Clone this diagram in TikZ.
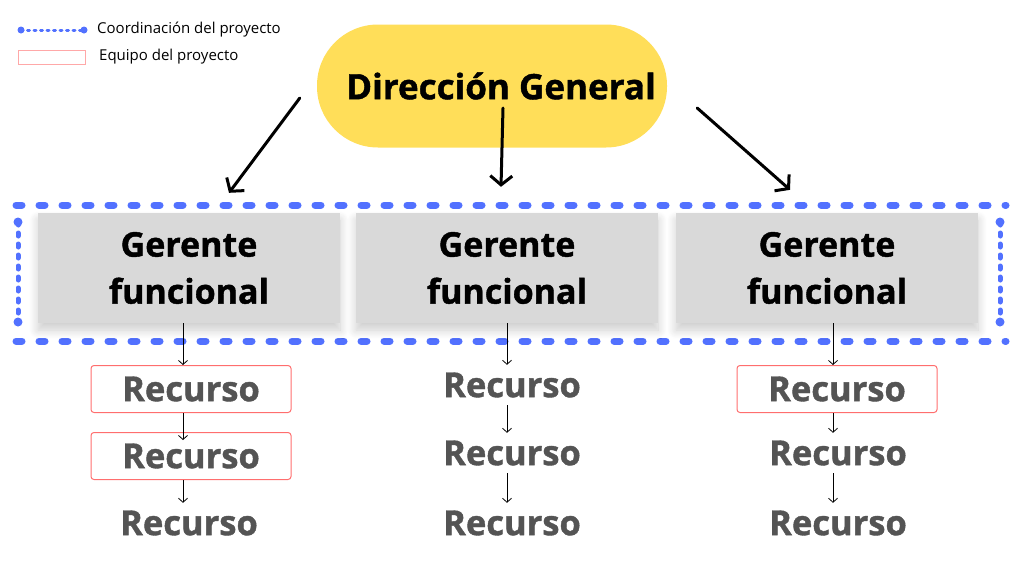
\documentclass[tikz,border=0pt]{standalone}
\usepackage{fontspec}
\setmainfont{Open Sans}
\newfontfamily\boldsans{Open Sans}[UprightFont=* Bold, FakeBold=1.2]
\usetikzlibrary{arrows.meta,shadows.blur}
\definecolor{myyellow}{RGB}{255,222,89}
\definecolor{mygray}{RGB}{217,217,217}
\definecolor{myblue}{RGB}{82,113,255}
\definecolor{myred}{RGB}{255,110,110}
\definecolor{mytext}{RGB}{84,84,84}

\begin{document}
\begin{tikzpicture}[x=1pt,y=-1pt,
    director/.style={fill=myyellow, rounded corners=61pt, minimum width=350pt, minimum height=123pt,
        font=\boldsans\fontsize{35}{40}\selectfont},
    manager/.style={fill=mygray, minimum width=302pt, minimum height=110pt, align=center,
        font=\boldsans\fontsize{34}{47}\selectfont,
        blur shadow={shadow xshift=0pt, shadow yshift=-7pt, shadow blur radius=9pt,
            shadow blur steps=10, shadow opacity=20}},
    resource/.style={text=mytext, minimum width=200pt, minimum height=40pt, inner sep=0pt,
        font=\boldsans\fontsize{34.5}{40}\selectfont},
    team/.style={resource, draw=myred, line width=1pt, rounded corners=3pt, minimum height=47pt},
    bigarrow/.style={-{Straight Barb[length=9pt,width=22pt,line width=3pt]}, line width=3pt, line cap=round},
    smallarrow/.style={-{Straight Barb[length=4pt,width=9pt]}, line width=0.8pt},
    coord/.style={myblue, line width=7pt, line cap=round, dash pattern=on 6pt off 17pt},
    coordside/.style={myblue, line width=5pt, line cap=round, dash pattern=on 3pt off 8pt}]
\useasboundingbox (0,0) rectangle (1024,576);

% leyenda
\draw[myblue, line width=3pt, line cap=round, dash pattern=on 2pt off 4.5pt] (21,30) -- (84,30);
\fill[myblue] (21,30) circle (3.5pt) (84,30) circle (3.5pt);
\node[anchor=west, font=\fontsize{15}{17}\selectfont, inner sep=0pt] (leg1) at (97,30) {Coordinación del proyecto};
\draw[myred!60, line width=0.6pt] (18,50) rectangle (85,64);
\node[anchor=west, font=\fontsize{15}{17}\selectfont, inner sep=0pt] (leg2) at (99,57) {Equipo del proyecto};

% marco de coordinacion
\draw[coord] (16,205) -- (1006,205);
\draw[coord] (16,341) -- (1006,341);
\draw[coordside] (18,222) -- (18,322);
\draw[coordside] (1000,222) -- (1000,322);
\fill[myblue] (18,222) circle (4.5pt) (18,322) circle (4.5pt) (1000,222) circle (4.5pt) (1000,322) circle (4.5pt);

\node[director] (dir) at (492,86) {\hspace*{18pt}Dirección General};

\node[manager] (g1) at (189,268) {Gerente\\funcional};
\node[manager] (g2) at (507,268) {Gerente\\funcional};
\node[manager] (g3) at (827,268) {Gerente\\funcional};

\node[team] (r11) at (191,389) {Recurso};
\node[team] (r12) at (191,456) {Recurso};
\node[resource] (r13) at (189,523) {Recurso};
\node[resource] (r21) at (512,385) {Recurso};
\node[resource] (r22) at (512,453) {Recurso};
\node[resource] (r23) at (512,523) {Recurso};
\node[team] (r31) at (837,389) {Recurso};
\node[resource] (r32) at (838,453) {Recurso};
\node[resource] (r33) at (838,523) {Recurso};

\draw[bigarrow] ([shift={(-17,12)}]dir.west) -- ([shift={(40,-20)}]g1.north);
\draw[bigarrow] ([shift={(11,22)}]dir.center) -- ([shift={(-6,-26)}]g2.north);
\draw[bigarrow] ([shift={(30,22)}]dir.east) -- ([shift={(-37,-23)}]g3.north);

\draw[smallarrow] ([xshift=-6pt]g1.south) -- ([xshift=-8pt]r11.north);
\draw[smallarrow] ([xshift=-8pt]r11.south) -- ([shift={(-8,8)}]r12.north);
\draw[smallarrow] ([xshift=-8pt]r12.south) -- ([xshift=-6pt]r13.north);
\draw[smallarrow] ([xshift=0pt]g2.south) -- ([xshift=-5pt]r21.north);
\draw[smallarrow] ([xshift=-5pt]r21.south) -- ([xshift=-5pt]r22.north);
\draw[smallarrow] ([xshift=-5pt]r22.south) -- ([xshift=-5pt]r23.north);
\draw[smallarrow] ([xshift=6pt]g3.south) -- ([xshift=-4pt]r31.north);
\draw[smallarrow] ([xshift=-4pt]r31.south) -- ([xshift=-5pt]r32.north);
\draw[smallarrow] ([xshift=-5pt]r32.south) -- ([xshift=-5pt]r33.north);
\end{tikzpicture}
\end{document}
